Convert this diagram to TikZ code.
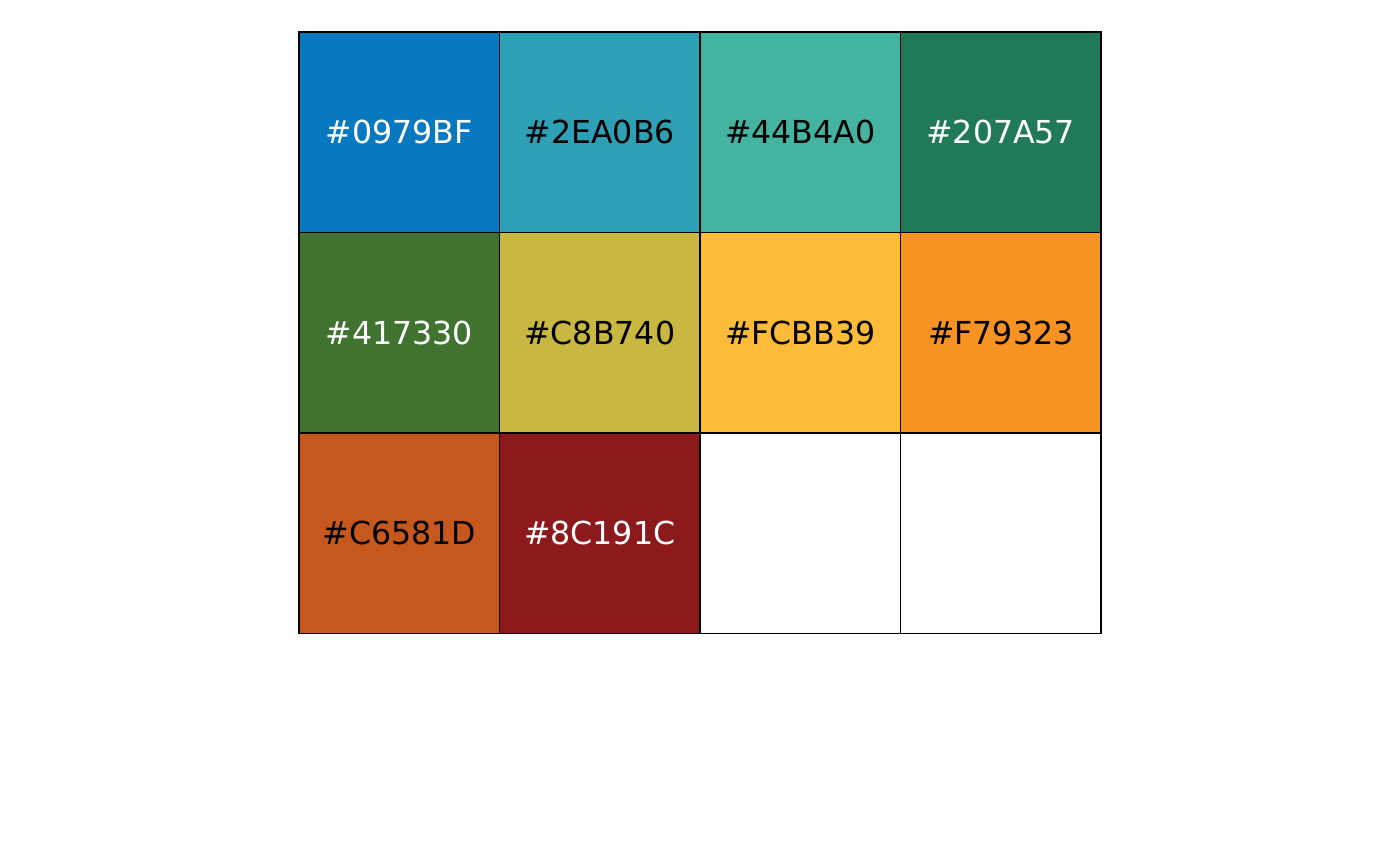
\documentclass[tikz,border=0pt]{standalone}
\usepackage{fontspec}
\setmainfont{DejaVu Sans}
\usepackage{xcolor}
\usetikzlibrary{positioning}

\definecolor{palA}{HTML}{0979BF}
\definecolor{palB}{HTML}{2EA0B6}
\definecolor{palC}{HTML}{44B4A0}
\definecolor{palD}{HTML}{207A57}
\definecolor{palE}{HTML}{417330}
\definecolor{palF}{HTML}{C8B740}
\definecolor{palG}{HTML}{FCBB39}
\definecolor{palH}{HTML}{F79323}
\definecolor{palI}{HTML}{C6581D}
\definecolor{palJ}{HTML}{8C191C}

\begin{document}
\begin{tikzpicture}[
    swatch/.style={
        rectangle,
        minimum width=2.005cm,           % one cell of the grid
        minimum height=2.005cm,
        inner sep=0pt,
        outer sep=0pt,                   % cells share their borders
        font=\fontsize{9}{11}\selectfont
    },
    darkcell/.style={text=white},
    lightcell/.style={text=black},
    cellborder/.style={draw=black, line width=0.55pt}
]
\useasboundingbox (0,0) rectangle (14,8.66);

% first row
\node[swatch, darkcell, fill=palA, anchor=north west] (c11) at (2.99,8.34) {\#0979BF};
\node[swatch, lightcell, fill=palB, right=0pt of c11] (c12) {\#2EA0B6};
\node[swatch, lightcell, fill=palC, right=0pt of c12] (c13) {\#44B4A0};
\node[swatch, darkcell, fill=palD, right=0pt of c13] (c14) {\#207A57};

% second row
\node[swatch, darkcell, fill=palE, below=0pt of c11] (c21) {\#417330};
\node[swatch, lightcell, fill=palF, right=0pt of c21] (c22) {\#C8B740};
\node[swatch, lightcell, fill=palG, right=0pt of c22] (c23) {\#FCBB39};
\node[swatch, lightcell, fill=palH, right=0pt of c23] (c24) {\#F79323};

% third row
\node[swatch, lightcell, fill=palI, below=0pt of c21] (c31) {\#C6581D};
\node[swatch, darkcell, fill=palJ, right=0pt of c31] (c32) {\#8C191C};
\node[swatch, fill=white, right=0pt of c32] (c33) {};
\node[swatch, fill=white, right=0pt of c33] (c34) {};

% borders on top of all fills
\foreach \cell in {c11,c12,c13,c14,c21,c22,c23,c24,c31,c32,c33,c34}
    \draw[cellborder] (\cell.north west) rectangle (\cell.south east);

\end{tikzpicture}
\end{document}
